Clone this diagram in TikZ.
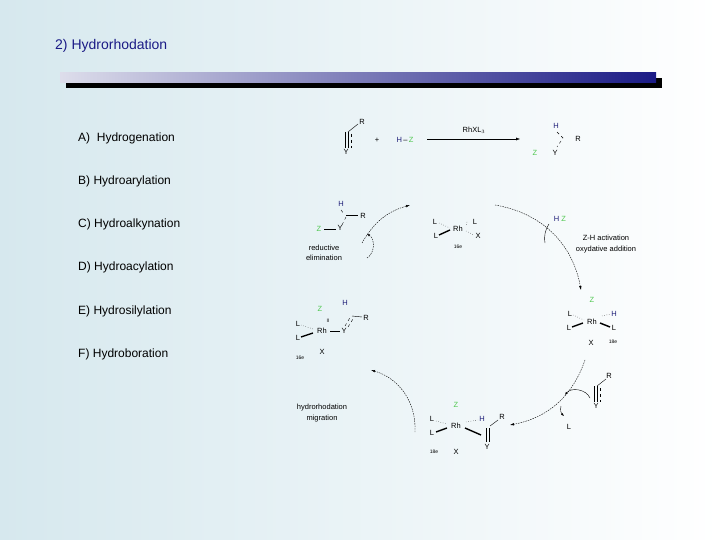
\documentclass[tikz,border=0pt]{standalone}
\usepackage{fontspec}
\setmainfont{Liberation Sans}
\usetikzlibrary{arrows.meta}
\definecolor{zg}{RGB}{80,200,80}
\definecolor{hb}{RGB}{30,30,120}
\definecolor{bgl}{RGB}{214,232,238}
\begin{document}
\begin{tikzpicture}[x=1pt,y=-1pt,
  lbl/.style={font=\fontsize{12}{14}\selectfont,anchor=west,inner sep=0},
  sm/.style={font=\fontsize{7.5}{9}\selectfont,inner sep=0},
  tn/.style={font=\fontsize{5}{6}\selectfont,inner sep=0},
  cyc/.style={draw,thin,dash pattern=on 1.5pt off 1pt,-{Latex[length=4pt,width=2.5pt]}},
  bnd/.style={thin},
  wedge/.style={line width=1.4pt}]
\shade[left color=bgl,right color=white] (0,0) rectangle (720,540);
\useasboundingbox (0,0) rectangle (720,540);
% title
\node[font=\fontsize{14}{16}\selectfont,anchor=west,inner sep=0,text=hb!90!blue] (t) at (55,46) {2) Hydrorhodation};
\fill[black] (66,78) rectangle (662,88);
\shade[left color=hb!15,right color=hb!90!blue] (60,73) rectangle (656,83);
% left list
\node[lbl] (a) at (78,138) {A)\ \ Hydrogenation};
\node[lbl] (b) at (78,181) {B) Hydroarylation};
\node[lbl] (c) at (78,224) {C) Hydroalkynation};
\node[lbl] (d) at (78,267) {D) Hydroacylation};
\node[lbl] (e) at (78,311) {E) Hydrosilylation};
\node[lbl] (f) at (78,354) {F) Hydroboration};
% top equation
\node[sm] (r1) at (362,122) {R};
\node[sm] (y1) at (346,152) {Y};
\draw[bnd] (348,132) -- (358,124);
\draw[bnd] (345,132) -- (345,148) (348,132) -- (348,148);
\draw[bnd,dashed] (351,134) -- (351,148);
\node[sm] (plus) at (377,140) {+};
\node[sm] (hz) at (405,140) {\textcolor{hb}{H}\,--\,\textcolor{zg}{Z}};
\node[sm] (cat) at (474,130) {RhXL$_3$};
\draw[-{Latex[length=4pt]}] (427,139) -- (520,139);
\node[sm,text=hb] (h2) at (556,126) {H};
\node[sm] (r2) at (578,139) {R};
\node[sm,text=zg] (z2) at (535,153) {Z};
\node[sm] (y2) at (555,153) {Y};
\draw[bnd,dashed] (557,132) -- (563,138) -- (557,147);
% center Rh
\node[sm] (rh0) at (458,229) {Rh};
\node[sm] (l01) at (435,222) {L};
\node[sm] (l02) at (475,222) {L};
\node[sm] (l03) at (436,236) {L};
\node[sm] (x0) at (478,236) {X};
\node[tn] (e0) at (458,247) {16e};
\draw[dotted] (439,223) -- (450,228);
\draw[dotted] (467,222) -- (466,226);
\draw[wedge] (439,235) -- (450,230);
\draw[dotted] (466,231) -- (474,235);
% right top Rh
\node[sm,text=hb] (hz3) at (560,219) {H \textcolor{zg}{Z}};
\draw[bnd] (549,224) to[bend right=20] (545,243);
\node[sm,align=center] (zh) at (606,244) {Z-H activation\\[2pt]oxydative addition};
\node[sm,text=zg] (z4) at (592,300) {Z};
\node[sm] (rh4) at (592,322) {Rh};
\node[sm] (l41) at (570,314) {L};
\node[sm,text=hb] (h4) at (614,314) {H};
\node[sm] (l42) at (569,328) {L};
\node[sm] (l43) at (614,328) {L};
\node[sm] (x4) at (591,343) {X};
\node[tn] (e4) at (613,342) {18e};
\draw[dotted] (573,315) -- (584,320);
\draw[dotted] (602,316) -- (611,314);
\draw[wedge] (572,327) -- (583,323);
\draw[wedge] (600,323) -- (610,327);
% alkyne + L loss
\node[sm] (r5) at (609,376) {R};
\node[sm] (y5) at (596,406) {Y};
\draw[bnd] (597,386) -- (606,379);
\draw[bnd] (594,386) -- (594,402) (597,386) -- (597,402);
\draw[bnd,dashed] (600,388) -- (600,402);
\draw[-{Latex[length=3pt]}] (590,398) to[bend right=60] (565,395);
\draw[-{Latex[length=3pt]}] (561,406) to[bend right=30] (564,416);
\node[sm] (l5) at (569,427) {L};
% bottom Rh
\node[sm,text=zg] (z6) at (456,405) {Z};
\node[sm] (rh6) at (456,426) {Rh};
\node[sm] (l61) at (432,419) {L};
\node[sm] (l62) at (432,433) {L};
\node[sm,text=hb] (h6) at (482,419) {H};
\node[sm] (r6) at (502,417) {R};
\node[sm] (y6) at (487,447) {Y};
\node[sm] (x6) at (456,452) {X};
\node[tn] (e6) at (434,452) {18e};
\draw[dotted] (436,421) -- (447,424);
\draw[wedge] (436,432) -- (447,428);
\draw[wedge] (465,428) -- (481,435);
\draw[dotted] (466,422) -- (478,420);
\draw[bnd] (490,426) -- (498,420);
\draw[bnd] (486,428) -- (486,442) (489,428) -- (489,442);
% left Rh
\node[sm,text=zg] (z7) at (320,309) {Z};
\node[sm,text=hb] (h7) at (345,303) {H};
\node[sm] (r7) at (366,318) {R};
\node[sm] (rh7) at (322,331) {Rh};
\node[sm] (y7) at (344,331) {Y};
\node[sm] (l71) at (298,324) {L};
\node[sm] (l72) at (298,338) {L};
\node[sm] (x7) at (322,352) {X};
\node[tn] (e7) at (300,358) {16e};
\draw[dotted] (301,325) -- (313,329);
\draw[wedge] (301,337) -- (313,333);
\draw[bnd] (330,331) -- (340,331);
\draw[bnd] (352,316) -- (362,317);
\draw[bnd,dashed] (345,326) -- (351,316) (348,327) -- (353,319);
\node[tn] (m) at (328,321) {II};
% top-left product
\node[sm,text=hb] (h8) at (341,204) {H};
\node[sm] (r8) at (363,216) {R};
\node[sm,text=zg] (z8) at (319,229) {Z};
\node[sm] (y8) at (340,228) {Y};
\draw[bnd] (324,229) -- (336,229);
\draw[bnd] (346,215) -- (358,215);
\draw[bnd,dashed] (342,225) -- (347,215) (341,210) -- (344,214);
\node[sm,align=center] (re) at (324,253) {reductive\\[1pt]elimination};
\draw[-{Latex[length=3pt]}, dash pattern=on 1.5pt off 1pt] (367,258) to[bend right=60] (367,234);
% cycle arrows
\draw[cyc] (362,243) to[bend left=22] (410,205);
\draw[cyc] (495,205) to[bend left=35] (581,290);
\draw[cyc] (585,360) to[bend left=30] (510,425);
\draw[cyc] (415,432) to[bend right=38] (371,370);
\node[sm,align=center] (hm) at (322,413) {hydrorhodation\\[2pt]migration};
\end{tikzpicture}
\end{document}
